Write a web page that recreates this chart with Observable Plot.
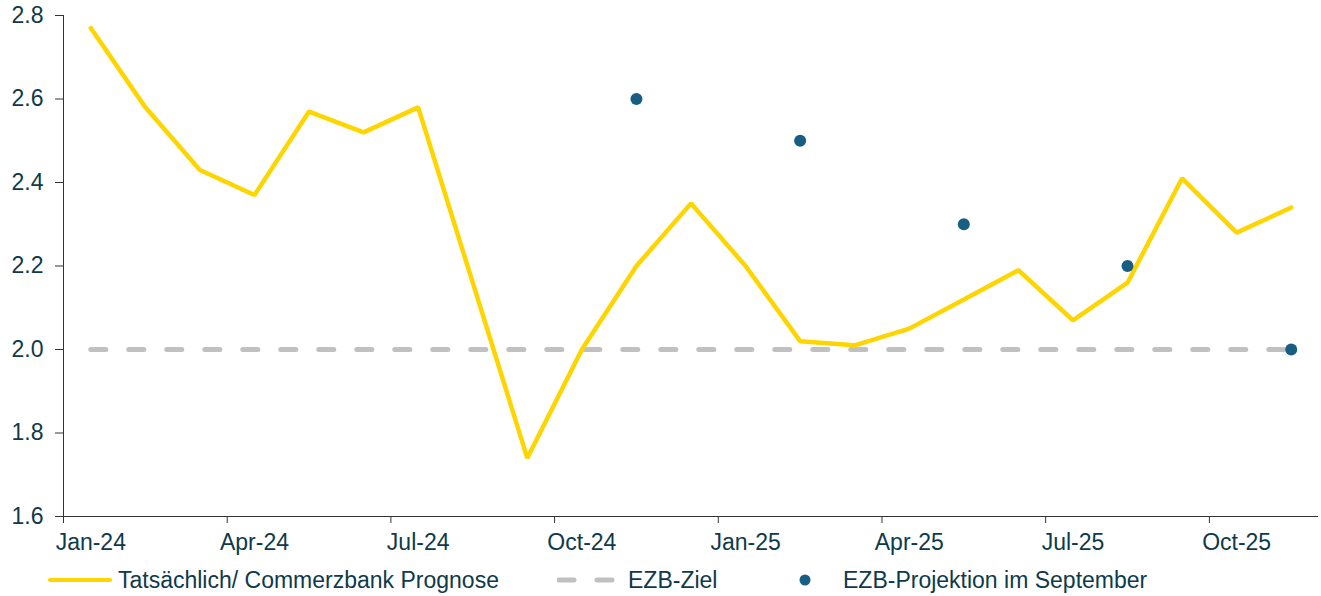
<!DOCTYPE html>
<html>
<head>
<meta charset="utf-8">
<script src="https://cdn.jsdelivr.net/npm/d3@7"></script>
<script src="https://cdn.jsdelivr.net/npm/@observablehq/plot@0.6"></script>
<style>
  body { margin: 0; background: white; font-family: "Liberation Sans", Arial, sans-serif; }
  #wrap { position: relative; width: 1321px; height: 596px; }
  .leg { position: absolute; top: 562px; height: 36px; display: flex; align-items: center; font-size: 23px; color: #0e3a4a; white-space: nowrap; }
  .leg svg { display: block; }
</style>
</head>
<body>
<div id="wrap">
  <div id="chart"></div>
  <div class="leg" style="left:48px">
    <svg width="64" height="10"><line x1="2" x2="62" y1="5" y2="5" stroke="#FFD500" stroke-width="4" stroke-linecap="round"/></svg>
    <span style="margin-left:6px">Tatsächlich/ Commerzbank Prognose</span>
  </div>
  <div class="leg" style="left:557px">
    <svg width="58" height="10"><line x1="2" x2="56" y1="5" y2="5" stroke="#C0C0C0" stroke-width="5" stroke-linecap="round" stroke-dasharray="15,23"/></svg>
    <span style="margin-left:13px">EZB-Ziel</span>
  </div>
  <div class="leg" style="left:798px">
    <svg width="14" height="14"><circle cx="7" cy="7" r="5.5" fill="#175E82"/></svg>
    <span style="margin-left:31px">EZB-Projektion im September</span>
  </div>
</div>
<script>
const months = ["Jan-24","Feb-24","Mar-24","Apr-24","May-24","Jun-24","Jul-24","Aug-24","Sep-24","Oct-24","Nov-24","Dec-24",
                "Jan-25","Feb-25","Mar-25","Apr-25","May-25","Jun-25","Jul-25","Aug-25","Sep-25","Oct-25","Nov-25"];
const actual = [2.77,2.58,2.43,2.37,2.57,2.52,2.58,2.16,1.74,2.00,2.20,2.35,
                2.20,2.02,2.01,2.05,2.12,2.19,2.07,2.16,2.41,2.28,2.34];
const projMonths = ["Nov-24","Feb-25","May-25","Aug-25","Nov-25"];
const projValues = [2.6,2.5,2.3,2.2,2.0];
const targetValue = 2.0;
const targetStart = "Jan-24";
const targetEnd = "Nov-25";
const tickLabels = ["Jan-24","Apr-24","Jul-24","Oct-24","Jan-25","Apr-25","Jul-25","Oct-25"];
const yTicks = [1.6,1.8,2.0,2.2,2.4,2.6,2.8];

const textColor = "#0e3a4a";
const lineData = months.map((m, i) => ({i, v: actual[i]}));
const projData = projMonths.map((m, k) => ({i: months.indexOf(m), v: projValues[k]}));
const targetData = [targetStart, targetEnd].map(m => ({i: months.indexOf(m), v: targetValue}));
const labelPos = tickLabels.map(m => months.indexOf(m));
const boundaryPos = labelPos.map(i => i - 0.5);

const chart = Plot.plot({
  width: 1321,
  height: 560,
  marginLeft: 63,
  marginRight: 3,
  marginTop: 15,
  marginBottom: 44,
  x: {domain: [-0.5, months.length - 0.5]},
  y: {domain: [1.6, 2.8]},
  style: {fontFamily: "'Liberation Sans', Arial, sans-serif", fontSize: "23px", color: textColor, background: "white", overflow: "visible"},
  marks: [
    Plot.axisY(yTicks, {tickSize: 8, tickPadding: 12, tickFormat: d3.format(".1f"), stroke: "#333", fill: textColor, label: null}),
    Plot.axisX(boundaryPos, {tickSize: 7, tickFormat: () => "", stroke: "#333", label: null}),
    Plot.axisX(labelPos, {tickSize: 0, tickPadding: 17, tickFormat: i => months[i], fill: textColor, label: null}),
    Plot.ruleX([-0.5], {stroke: "#333", strokeWidth: 1}),
    Plot.ruleY([1.6], {stroke: "#333", strokeWidth: 1}),
    Plot.line(targetData, {x: "i", y: "v", stroke: "#C0C0C0", strokeWidth: 5, strokeDasharray: "15,23", strokeLinecap: "round"}),
    Plot.line(lineData, {x: "i", y: "v", stroke: "#FFD500", strokeWidth: 4.5, strokeLinejoin: "miter", strokeLinecap: "round"}),
    Plot.dot(projData, {x: "i", y: "v", r: 6, fill: "#175E82", stroke: "none"})
  ]
});
document.getElementById("chart").append(chart);
</script>
</body>
</html>
